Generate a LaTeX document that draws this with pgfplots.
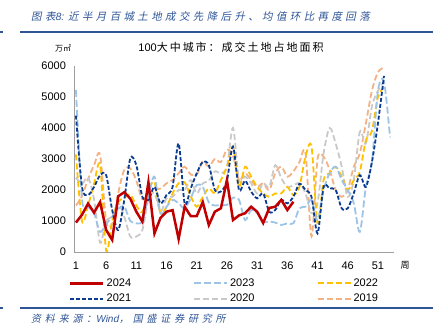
\documentclass[border=0pt]{standalone}
\usepackage{fontspec}
\setmainfont{Liberation Sans}
\newfontfamily\cjk{Noto Sans CJK SC}
\newfontfamily\cjkit[FakeSlant=0.2,LetterSpace=32]{Noto Sans CJK SC}
\newfontfamily\cjksrc[FakeSlant=0.2,LetterSpace=38]{Noto Sans CJK SC}
\newfontfamily\cjksp[LetterSpace=18]{Noto Sans CJK SC}
\usepackage{pgfplots}
\pgfplotsset{compat=1.18}
\definecolor{c24}{HTML}{C00000}
\definecolor{c23}{HTML}{9DC3E6}
\definecolor{c22}{HTML}{FFC000}
\definecolor{c21}{HTML}{0B3C91}
\definecolor{c20}{HTML}{C9C9C9}
\definecolor{c19}{HTML}{F4B183}
\definecolor{tblue}{HTML}{2F5597}
\begin{document}
\begin{tikzpicture}[x=1pt,y=1pt]
\path[use as bounding box] (0,0) rectangle (433,334);
\node[anchor=west, text=tblue, font=\cjkit\fontsize{10.5}{12}\selectfont, inner sep=0] at (31,317) {图表{\rmfamily\itshape 8: }近半月百城土地成交先降后升、均值环比再度回落};
\draw[tblue, line width=1.3pt] (20,302) -- (433,302);
\draw[tblue, line width=1.3pt] (0,302) -- (3,302);
\draw[tblue, line width=1.3pt] (20,26) -- (433,26);
\draw[tblue, line width=1.3pt] (0,26) -- (3,26);
\node[anchor=west, text=tblue, font=\cjksrc\fontsize{10}{12}\selectfont, inner sep=0] at (31,15) {资料来源：{\rmfamily\itshape Wind}，国盛证券研究所};
\node[font=\cjksp\fontsize{11}{13}\selectfont, inner sep=0] at (231,287) {{\rmfamily 100}大中城市：成交土地占地面积};
\node[font=\cjk\fontsize{8}{10}\selectfont, inner sep=0] at (63,286) {万㎡};
\node[font=\cjk\fontsize{9}{10}\selectfont, inner sep=0] at (405,69) {周};
\begin{axis}[
  at={(73.95pt,82pt)}, anchor=origin, scale only axis,
  width=320pt, height=186pt,
  xmin=0.67, xmax=53.65, ymin=0, ymax=6000,
  xtick={1,6,...,51}, ytick={0,1000,...,6000},
  axis x line*=bottom, axis y line*=left,
  axis line style={draw=gray!75, line width=0.8pt},
  major tick length=0pt,
  tick label style={font=\fontsize{11}{13}\selectfont},
  /pgf/number format/assume math mode=true,
  /pgf/number format/1000 sep={},
  scaled y ticks=false,
  xticklabel style={yshift=-6pt},
  yticklabel style={xshift=-4.5pt},
  legend columns=3,
  legend cell align=left,
  legend image code/.code={\draw[#1] (0pt,0pt) -- (33pt,0pt);},
  legend style={draw=none, fill=none, inner sep=0pt, at={(-0.0156,-0.132)}, anchor=north west,
    font=\fontsize{11}{13}\selectfont, row sep=2pt,
    /tikz/every even column/.append style={column sep=60pt}},
]
\addlegendimage{c24, line width=2.5pt}
\addlegendentry{2024}
\addlegendimage{c23, line width=2pt, dash pattern=on 7pt off 3pt}
\addlegendentry{2023}
\addlegendimage{c22, line width=2pt, dash pattern=on 6pt off 3pt}
\addlegendentry{2022}
\addlegendimage{c21, line width=2pt, dash pattern=on 4pt off 2pt}
\addlegendentry{2021}
\addlegendimage{c20, line width=2pt, dash pattern=on 6pt off 3pt}
\addlegendentry{2020}
\addlegendimage{c19, line width=2pt, dash pattern=on 6pt off 3pt}
\addlegendentry{2019}
% 2019
\addplot[forget plot, c19, line width=1.8pt, dash pattern=on 6pt off 3pt, smooth] coordinates {
(1,1500)(2,1800)(3,2350)(4,2800)(5,3130)(6,1000)(7,900)(8,1900)(9,2650)(10,2700)
(11,2300)(12,1700)(13,1890)(14,2000)(15,2050)(16,2215)(17,2320)(18,2540)(19,2750)(20,2500)
(21,2500)(22,2910)(23,2750)(24,3000)(25,2900)(26,3300)(27,3100)(28,2320)(29,2540)(30,2320)
(31,2100)(32,2215)(33,2000)(34,2540)(35,2750)(36,2430)(37,2600)(38,2900)(39,3200)(40,500)
(41,3000)(42,3070)(43,2650)(44,2000)(45,1780)(46,2000)(47,2750)(48,3180)(49,4150)(50,5200)
(51,5800)(52,5950)};
% 2020
\addplot[forget plot, c20, line width=1.8pt, dash pattern=on 6pt off 3pt, smooth] coordinates {
(1,2400)(2,2200)(3,2400)(4,1700)(5,300)(6,1000)(7,1140)(8,1570)(9,1140)(10,500)
(11,500)(12,710)(13,1700)(14,1900)(15,1300)(16,1730)(17,1780)(18,2000)(19,2000)(20,2320)
(21,1890)(22,2215)(23,2300)(24,2600)(25,2540)(26,2750)(27,4000)(28,2320)(29,2430)(30,2215)
(31,1890)(32,2215)(33,2100)(34,2800)(35,2380)(36,2100)(37,2150)(38,2215)(39,1890)(40,1250)
(41,1570)(42,3180)(43,4000)(44,3500)(45,2750)(46,1780)(47,2320)(48,3880)(49,3500)(50,4700)
(51,5200)(52,5500)};
% 2022
\addplot[forget plot, c22, line width=1.8pt, dash pattern=on 6pt off 3pt, smooth] coordinates {
(1,3150)(2,1000)(3,1500)(4,2200)(5,2800)(6,50)(7,1000)(8,1600)(9,1750)(10,1850)
(11,1500)(12,1300)(13,2000)(14,2250)(15,1250)(16,1460)(17,1890)(18,2215)(19,2250)(20,1800)
(21,1460)(22,1780)(23,2050)(24,1900)(25,2320)(26,2750)(27,3400)(28,2100)(29,2750)(30,2430)
(31,2100)(32,1890)(33,1780)(34,1890)(35,1890)(36,2100)(37,1840)(38,2100)(39,3070)(40,3400)
(41,925)(42,2320)(43,2540)(44,2750)(45,2430)(46,2000)(47,2320)(48,2590)(49,3600)(50,3900)
(51,5000)(52,5300)};
% 2023
\addplot[forget plot, c23, line width=1.8pt, dash pattern=on 7pt off 3pt, smooth] coordinates {
(1,5230)(2,1700)(3,1460)(4,1250)(5,650)(6,900)(7,1140)(8,1400)(9,1460)(10,1000)
(11,925)(12,1000)(13,1780)(14,2430)(15,1250)(16,1460)(17,1680)(18,1570)(19,1410)(20,1730)
(21,2160)(22,2100)(23,1600)(24,1500)(25,1520)(26,1520)(27,1750)(28,1680)(29,1030)(30,1355)
(31,1250)(32,980)(33,980)(34,950)(35,870)(36,925)(37,925)(38,1410)(39,1460)(40,1680)
(41,1030)(42,2000)(43,2540)(44,2750)(45,2320)(46,2000)(47,1570)(48,650)(49,2100)(50,2900)
(51,5200)(52,5500)(53,3700)};
% 2021
\addplot[forget plot, c21, line width=1.8pt, dash pattern=on 4pt off 2pt, smooth] coordinates {
(1,4400)(2,2100)(3,1840)(4,2100)(5,2480)(6,2480)(7,1355)(8,710)(9,1680)(10,3020)
(11,2800)(12,1780)(13,1680)(14,2100)(15,1570)(16,1840)(17,2100)(18,3500)(19,1570)(20,2050)
(21,2540)(22,2910)(23,2800)(24,2000)(25,1950)(26,2300)(27,3400)(28,2000)(29,2300)(30,1950)
(31,1730)(32,1890)(33,1300)(34,1355)(35,1680)(36,1570)(37,1780)(38,2200)(39,2000)(40,1780)
(41,600)(42,2100)(43,2050)(44,2000)(45,1410)(46,1410)(47,1900)(48,2480)(49,2100)(50,2900)
(51,4150)(52,5680)};
% 2024
\addplot[forget plot, c24, line width=2.5pt] coordinates {
(1,950)(2,1200)(3,1560)(4,1270)(5,1610)(6,710)(7,390)(8,1800)(9,1930)(10,1720)
(11,1300)(12,980)(13,2250)(14,600)(15,1100)(16,1300)(17,1350)(18,420)(19,1460)(20,1160)
(21,1160)(22,1610)(23,870)(24,1300)(25,1410)(26,2320)(27,1030)(28,1180)(29,1250)(30,1460)
(31,1300)(32,935)(33,1420)(34,1460)(35,1680)(36,1355)(37,1620)};
\end{axis}
\end{tikzpicture}
\end{document}
